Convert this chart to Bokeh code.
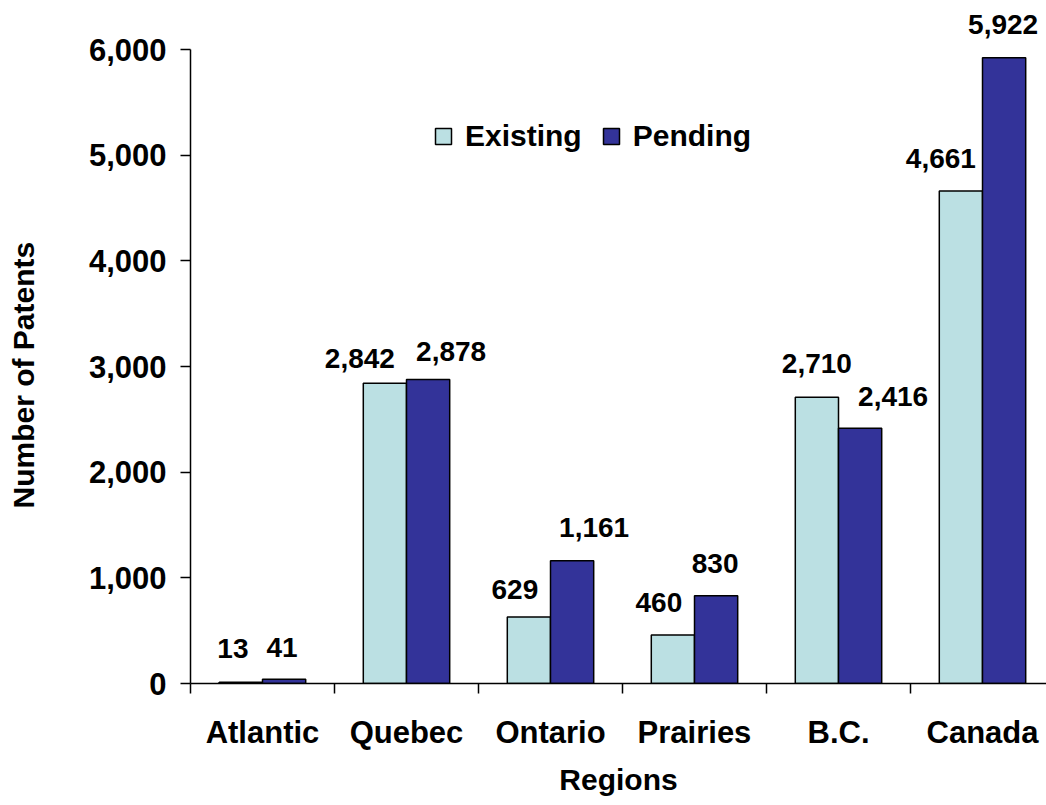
import numpy as np
from bokeh.plotting import figure
from bokeh.models import (Range1d, FixedTicker, NumeralTickFormatter,
                          ColumnDataSource, Legend, LegendItem, LabelSet, Title)
from bokeh.core.properties import value
from bokeh.embed import file_html
from bokeh.resources import INLINE

# Patent counts by region
regions = ["Atlantic", "Quebec", "Ontario", "Prairies", "B.C.", "Canada"]
existing = [13, 2842, 629, 460, 2710, 4661]
pending = [41, 2878, 1161, 830, 2416, 5922]
y_ticks = [0, 1000, 2000, 3000, 4000, 5000, 6000]
y_max = 6000

# pixel nudges that keep neighbouring value labels apart
existing_label_dx = [-8, -25, -14, -14, 0, -20]
existing_label_dy = [24, 15, 18, 23, 24, 23]
pending_label_dx = [-2, 23, 22, -1, 33, -1]
pending_label_dy = [22, 18, 24, 23, 22, 24]

FONT = "Liberation Sans"
LIGHT = "#BBE0E3"
DARK = "#333399"

idx = np.arange(len(regions))
bar_w = 0.3
x_exist = idx + 0.2 + bar_w / 2
x_pend = idx + 0.2 + bar_w * 1.5

src_e = ColumnDataSource(dict(
    x=x_exist, top=existing, label=[f"{v:,}" for v in existing],
    dx=existing_label_dx, dy=existing_label_dy))
src_p = ColumnDataSource(dict(
    x=x_pend, top=pending, label=[f"{v:,}" for v in pending],
    dx=pending_label_dx, dy=pending_label_dy))

# the frame reaches the top edge so the tallest value label has room;
# the value axis itself stops at y_max
frame_h = 683
axis_h = 634
p = figure(frame_width=856, frame_height=frame_h,
           min_border_left=190, min_border_top=0,
           min_border_bottom=122, min_border_right=0,
           x_range=Range1d(0, 856 / 144),
           y_range=Range1d(0, y_max * frame_h / axis_h),
           output_backend="svg", toolbar_location=None)

r_e = p.vbar(x="x", top="top", width=bar_w, source=src_e,
             fill_color=LIGHT, line_color="black", line_width=1.5)
r_p = p.vbar(x="x", top="top", width=bar_w, source=src_p,
             fill_color=DARK, line_color="black", line_width=1.5)

for src in (src_e, src_p):
    p.add_layout(LabelSet(x="x", y="top", text="label", x_offset="dx",
                          y_offset="dy", source=src, text_align="center",
                          text_baseline="alphabetic", text_font=value(FONT),
                          text_font_style="bold", text_font_size="28px",
                          text_color="black"))

p.xgrid.visible = False
p.ygrid.visible = False
p.outline_line_color = None
p.background_fill_color = "white"
p.border_fill_color = "white"

# y axis
ya = p.yaxis[0]
ya.bounds = (0, y_max)
ya.ticker = FixedTicker(ticks=y_ticks)
ya.formatter = NumeralTickFormatter(format="0,0")
ya.axis_line_color = "black"
ya.axis_line_width = 1.5
ya.major_tick_in = 0
ya.major_tick_out = 10
ya.major_tick_line_width = 1.5
ya.minor_tick_in = 0
ya.minor_tick_out = 0
ya.major_label_standoff = 14
ya.major_label_text_font = FONT
ya.major_label_text_font_style = "bold"
ya.major_label_text_font_size = "31px"
ya.major_label_text_color = "black"
# blank axis label used as a gap between the tick labels and the title
ya.axis_label = " "
ya.axis_label_text_font_size = "1px"
ya.axis_label_standoff = 34

# y axis title at the outer edge of the left margin
p.add_layout(Title(text="Number of Patents", align="left", offset=175,
                   vertical_align="top", standoff=12,
                   text_font=FONT, text_font_style="bold",
                   text_font_size="30px", text_color="black"), "left")

# x axis: names at category centres, tick marks at category boundaries
xa = p.xaxis[0]
xa.ticker = FixedTicker(ticks=list(idx + 0.5), minor_ticks=list(range(len(regions) + 1)))
xa.major_label_overrides = {float(i + 0.5): name for i, name in enumerate(regions)}
xa.axis_line_color = "black"
xa.axis_line_width = 1.5
xa.major_tick_in = 0
xa.major_tick_out = 0
xa.minor_tick_in = 0
xa.minor_tick_out = 10
xa.minor_tick_line_width = 1.5
xa.minor_tick_line_color = "black"
xa.major_label_standoff = 21
xa.major_label_text_font = FONT
xa.major_label_text_font_style = "bold"
xa.major_label_text_font_size = "31px"
xa.major_label_text_color = "black"
xa.axis_label = "Regions"
xa.axis_label_text_font = FONT
xa.axis_label_text_font_style = "bold"
xa.axis_label_text_font_size = "30px"
xa.axis_label_text_color = "black"
xa.axis_label_standoff = 10

legend = Legend(items=[LegendItem(label="Existing", renderers=[r_e]),
                       LegendItem(label="Pending", renderers=[r_p])],
                orientation="horizontal", location=(243, 530),
                glyph_width=20, glyph_height=20, label_standoff=12,
                spacing=19, padding=0, margin=0,
                border_line_color=None, background_fill_alpha=0,
                label_text_font=FONT, label_text_font_style="bold",
                label_text_font_size="30px", label_text_color="black")
p.add_layout(legend)

open("out.html", "w").write(file_html(p, INLINE))
